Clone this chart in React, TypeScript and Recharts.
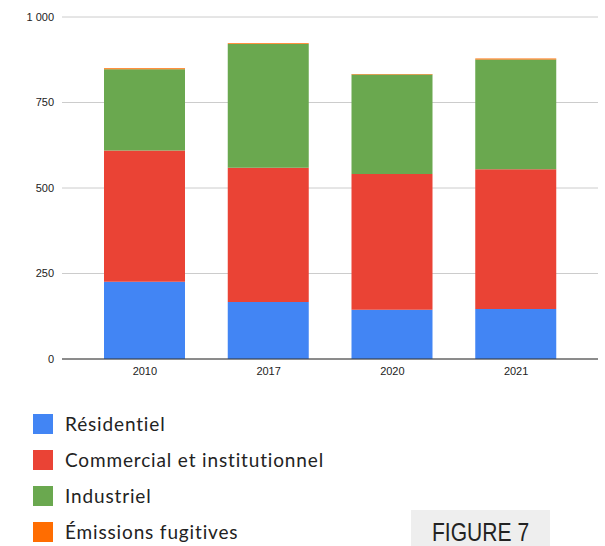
import React from "react";
import { BarChart, Bar, XAxis, YAxis, CartesianGrid } from "recharts";

const categories = ["2010", "2017", "2020", "2021"];
const residentiel = [226, 167, 144, 146];
const commercial = [384, 392, 397, 409];
const industriel = [237, 362, 291, 321];
const fugitives = [3, 2, 1, 3];
const yTicks = [0, 250, 500, 750, 1000];

const seriesNames = [
  "Résidentiel",
  "Commercial et institutionnel",
  "Industriel",
  "Émissions fugitives",
];
const seriesKeys = ["res", "com", "ind", "fug"];
const seriesColors = ["#4285F4", "#EA4335", "#6AA84F", "#FF6D01"];

const data = categories.map((c, i) => ({
  year: c,
  res: residentiel[i],
  com: commercial[i],
  ind: industriel[i],
  fug: fugitives[i],
}));

const fmt = (v: number) =>
  String(v).replace(/\B(?=(\d{3})+(?!\d))/g, " ");

export default function App() {
  return (
    <div
      style={{
        position: "absolute",
        left: 0,
        top: 0,
        width: 605,
        height: 546,
        background: "#fff",
        overflow: "hidden",
      }}
    >
      <BarChart
        width={605}
        height={389}
        data={data}
        margin={{ top: 17, right: 7, left: 0, bottom: 0 }}
      >
        <CartesianGrid vertical={false} stroke="#cccccc" />
        <XAxis
          dataKey="year"
          height={30}
          padding={{ left: 21, right: 20 }}
          tickLine={false}
          axisLine={{ stroke: "#333333" }}
          tick={{ fontSize: 11, fill: "#222", fontFamily: "Liberation Sans, Arial, sans-serif" }}
        />
        <YAxis
          width={62}
          domain={[0, 1000]}
          ticks={yTicks}
          tickFormatter={fmt}
          tickLine={false}
          axisLine={false}
          tick={{ fontSize: 11, fill: "#222", fontFamily: "Liberation Sans, Arial, sans-serif" }}
        />
        {seriesKeys.map((k, i) => (
          <Bar
            key={k}
            dataKey={k}
            name={seriesNames[i]}
            stackId="a"
            fill={seriesColors[i]}
            barSize={81}
            isAnimationActive={false}
          />
        ))}
      </BarChart>
      {seriesNames.map((n, i) => (
        <div
          key={n}
          style={{
            position: "absolute",
            left: 33,
            top: 414 + i * 36,
            height: 20,
            display: "flex",
            alignItems: "center",
          }}
        >
          <div style={{ width: 20, height: 20, background: seriesColors[i] }} />
          <div
            style={{
              marginLeft: 12,
              fontFamily: "Lato, sans-serif",
              fontSize: 19,
              letterSpacing: 0.85,
              fontVariantLigatures: "none",
              color: "#222",
              whiteSpace: "nowrap",
              lineHeight: "20px",
            }}
          >
            {n}
          </div>
        </div>
      ))}
      <div
        style={{
          position: "absolute",
          left: 411,
          top: 510,
          width: 139,
          height: 40,
          background: "#eeeeee",
        }}
      >
        <div
          style={{
            position: "absolute",
            left: 21,
            top: 7,
            fontFamily: "'Liberation Sans', Arial, sans-serif",
            fontSize: 26,
            color: "#222",
            lineHeight: "30px",
            whiteSpace: "nowrap",
            transform: "scaleX(0.81)",
            transformOrigin: "0 0",
          }}
        >
          FIGURE 7
        </div>
      </div>
    </div>
  );
}
